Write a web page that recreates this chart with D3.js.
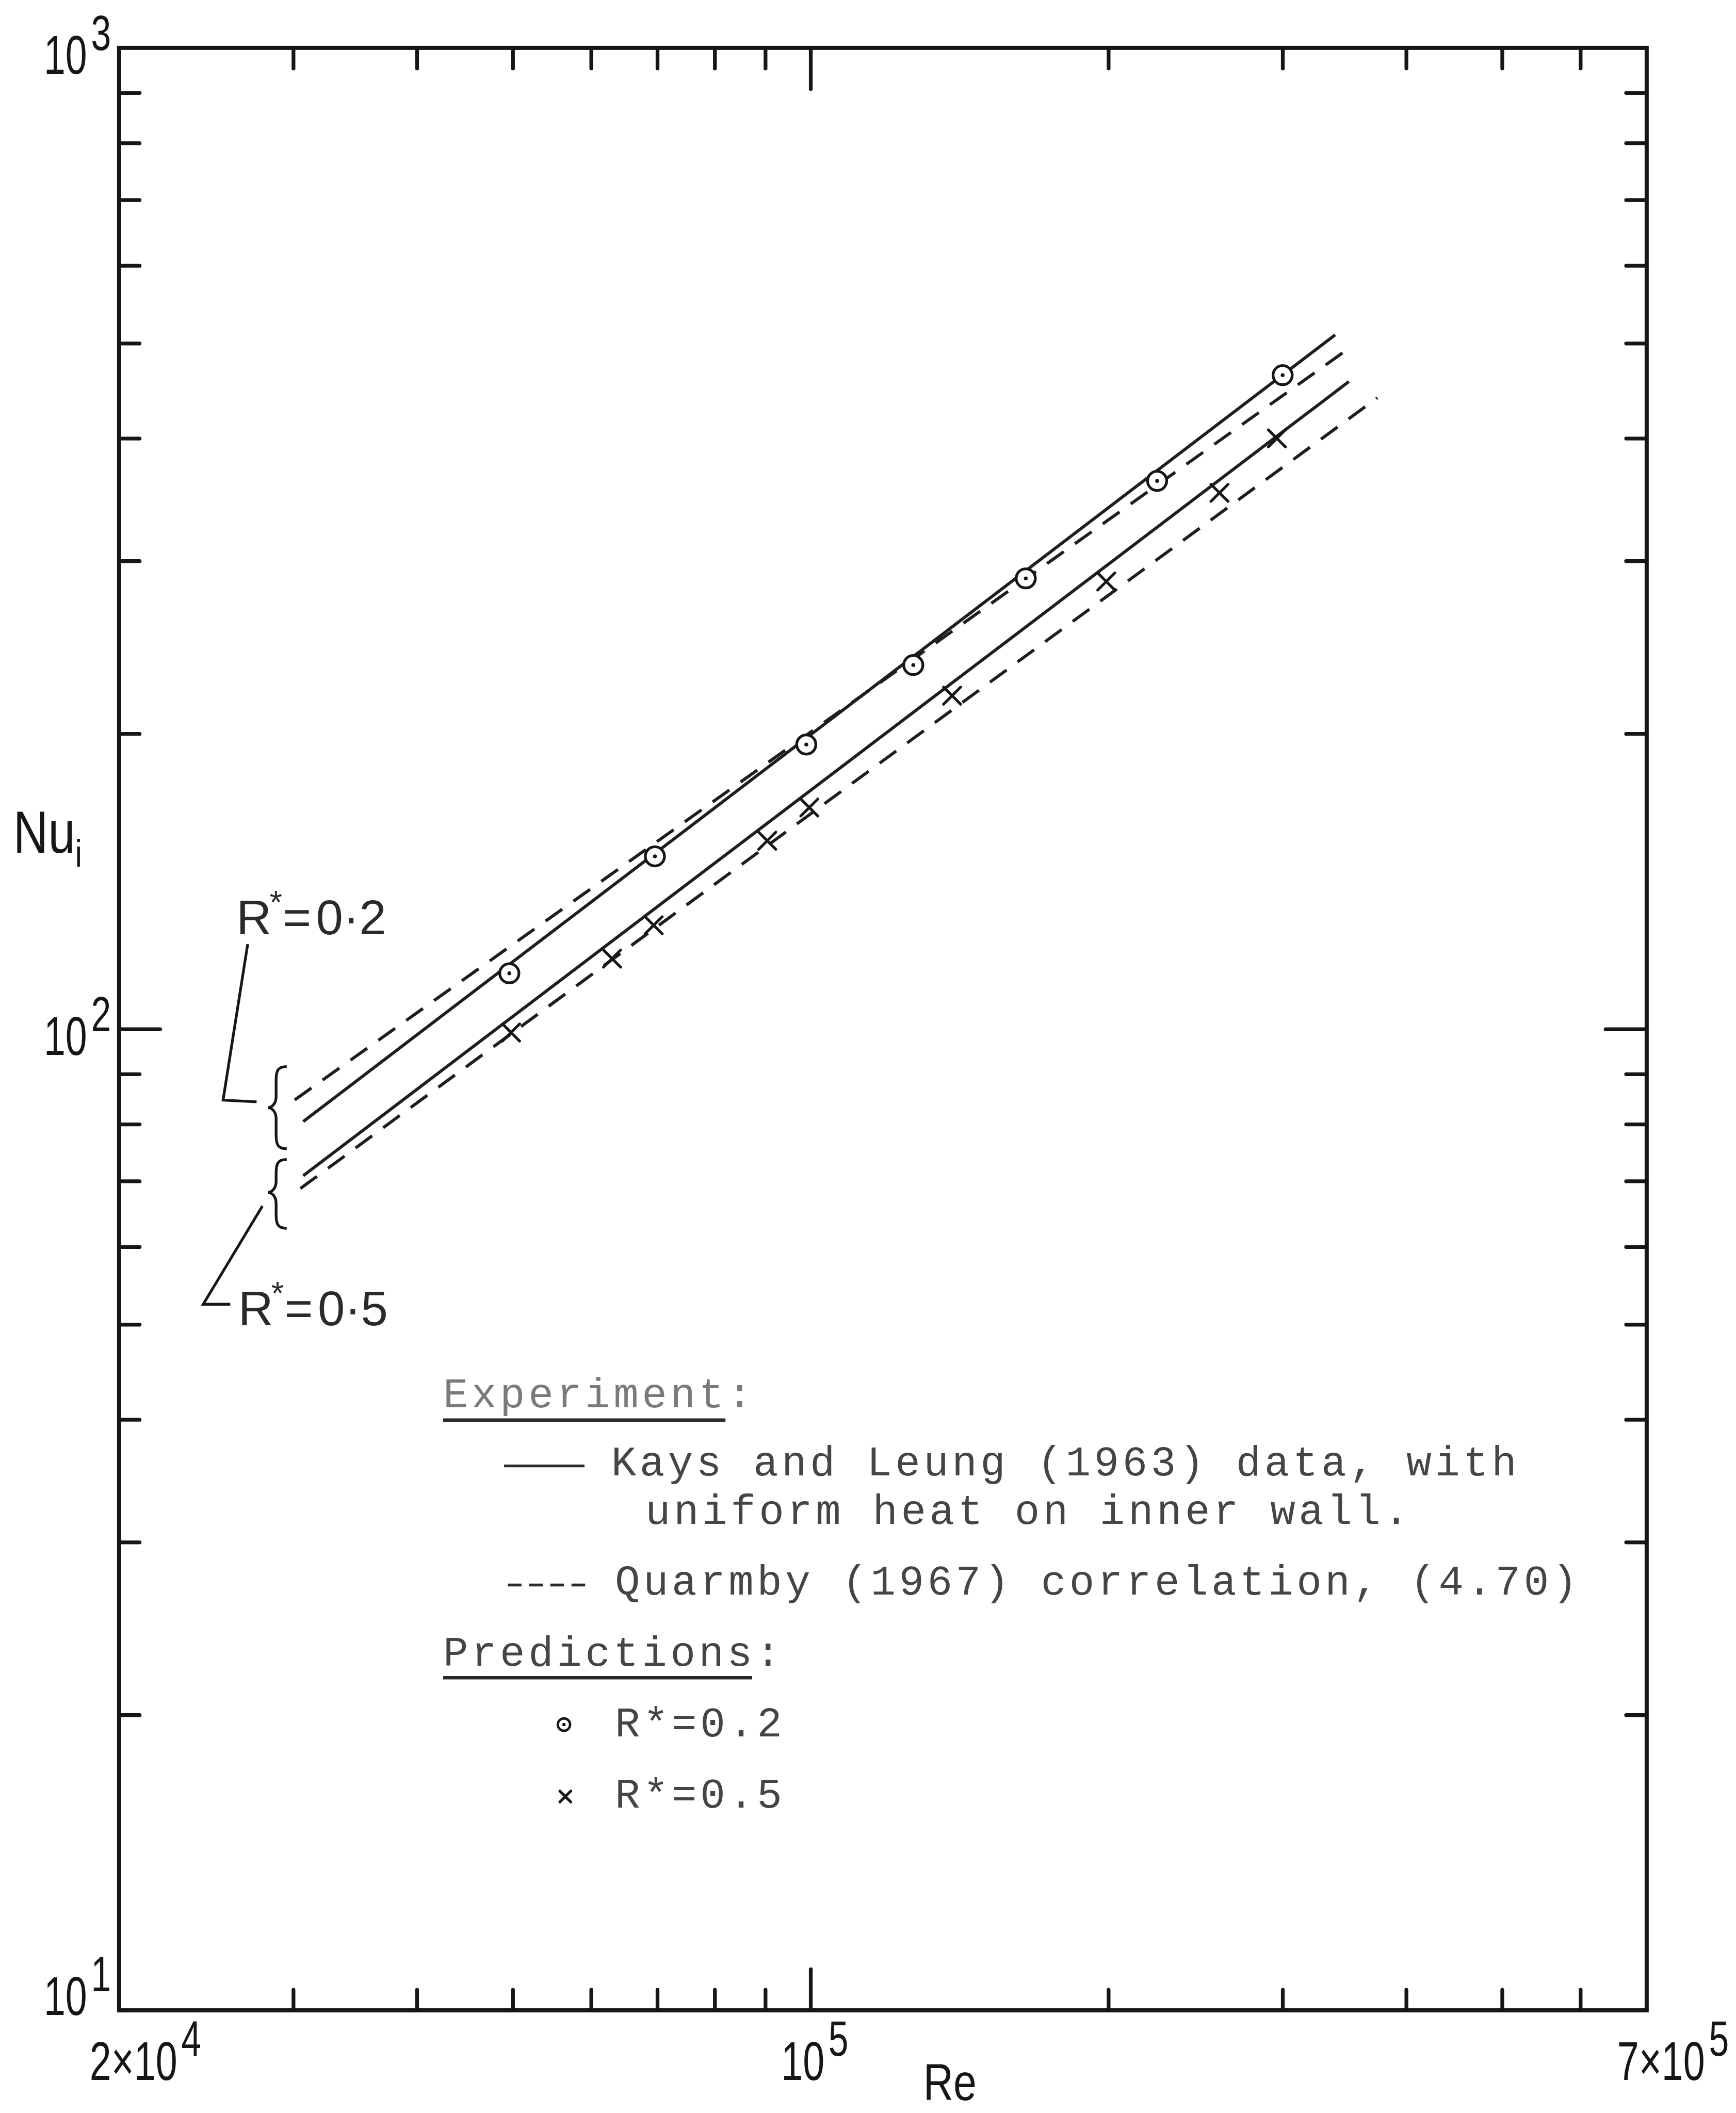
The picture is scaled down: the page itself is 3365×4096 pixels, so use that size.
<!DOCTYPE html>
<html>
<head>
<meta charset="utf-8">
<script src="https://cdn.jsdelivr.net/npm/d3@7"></script>
<style>
  html, body { margin: 0; padding: 0; background: #ffffff; }
  svg { display: block; }
</style>
</head>
<body>
<svg id="chart" width="3365" height="4096" viewBox="0 0 5073 6175"></svg>
<script>
// ---- Axis ticks (log-log paper) ----
const reMinorTicks = [3e4, 4e4, 5e4, 6e4, 7e4, 8e4, 9e4, 2e5, 3e5, 4e5, 5e5, 6e5];
const reMajorTicks = [1e5];
const nuMinorTicks = [20, 30, 40, 50, 60, 70, 80, 90, 200, 300, 400, 500, 600, 700, 800, 900];
const nuMajorTicks = [100];

// ---- Tick labels ----
const reLabelValues = [2e4, 1e5, 7e5];
const reLabelBases  = ["2×10", "10", "7×10"];
const reLabelExps   = ["4", "5", "5"];
const nuLabelValues = [1000, 100, 10];
const nuLabelExps   = ["3", "2", "1"];

// ---- Predictions (markers) ----
const predRe02 = [4.96e4, 6.96e4, 9.9e4, 1.27e5, 1.65e5, 2.24e5, 3.0e5];
const predNu02 = [114, 150, 195, 235, 288, 362, 464];
const predRe05 = [4.98e4, 6.3e4, 6.94e4, 9.04e4, 9.97e4, 1.39e5, 1.99e5, 2.59e5, 2.96e5];
const predNu05 = [99.2, 118, 127.6, 155.6, 168.2, 218.7, 285.9, 352, 400];

// ---- Kays & Leung data (solid) and Quarmby correlation (dashed) ----
const kaysRe02    = [3.07e4, 3.39e5];
const kaysNu02    = [80.5, 510];
const quarmbyRe02 = [3.01e4, 3.49e5];
const quarmbyNu02 = [84.7, 493];
const kaysRe05    = [3.07e4, 3.50e5];
const kaysNu05    = [70.9, 457];
const quarmbyRe05 = [3.05e4, 3.74e5];
const quarmbyNu05 = [68.8, 440];

const svg = d3.select("#chart");
const INK = "#161616";
const TYPE = "#454545";

const plot = { left: 348, right: 4812, top: 140, bottom: 5875 };
const x = d3.scaleLog().domain([2e4, 7e5]).range([plot.left, plot.right]);
const y = d3.scaleLog().domain([10, 1000]).range([plot.bottom, plot.top]);

const zip = (a, b) => a.map((v, i) => ({ re: v, nu: b[i] }));

// ---- Frame ----
svg.append("rect")
  .attr("x", plot.left).attr("y", plot.top)
  .attr("width", plot.right - plot.left).attr("height", plot.bottom - plot.top)
  .attr("fill", "none").attr("stroke", INK).attr("stroke-width", 12);

// ---- Inward ticks on all four sides ----
function ticks(axis, transform, values, len) {
  svg.append("g")
    .attr("transform", transform)
    .call(axis.tickValues(values).tickSize(-len).tickFormat(""))
    .call(g => g.select(".domain").remove())
    .call(g => g.selectAll(".tick line")
      .attr("stroke", INK).attr("stroke-width", 11).attr("stroke-linecap", "round"));
}
const minorLen = 60, majorLen = 120;
ticks(d3.axisBottom(x), `translate(0,${plot.bottom})`, reMinorTicks, minorLen);
ticks(d3.axisBottom(x), `translate(0,${plot.bottom})`, reMajorTicks, majorLen);
ticks(d3.axisTop(x), `translate(0,${plot.top})`, reMinorTicks, minorLen);
ticks(d3.axisTop(x), `translate(0,${plot.top})`, reMajorTicks, majorLen);
ticks(d3.axisLeft(y), `translate(${plot.left},0)`, nuMinorTicks, minorLen);
ticks(d3.axisLeft(y), `translate(${plot.left},0)`, nuMajorTicks, majorLen);
ticks(d3.axisRight(y), `translate(${plot.right},0)`, nuMinorTicks, minorLen);
ticks(d3.axisRight(y), `translate(${plot.right},0)`, nuMajorTicks, majorLen);

// ---- Lettered labels (condensed stencil style) ----
const LETTER = "'Liberation Sans', Arial, sans-serif";
const labels = svg.append("g").attr("font-family", LETTER).attr("fill", INK);

// base number with a raised exponent, squeezed horizontally
function powerLabel(bx, by, base, exp) {
  const t = labels.append("text")
    .attr("transform", `translate(${bx},${by}) scale(0.72,1)`)
    .attr("font-size", 158);
  t.append("tspan").text(base);
  t.append("tspan").attr("dx", 16).attr("dy", -70).attr("font-size", 146).text(exp);
}

nuLabelValues.forEach((v, i) => {
  const shift = v === 10 ? 14 : 76;
  powerLabel(plot.left - 220, y(v) + shift, "10", nuLabelExps[i]);
});
reLabelValues.forEach((v, i) => {
  powerLabel(x(v) - 86, plot.bottom + 203, reLabelBases[i], reLabelExps[i]);
});

// Axis titles
labels.append("text")
  .attr("transform", `translate(${x(1.3e5)},6138) scale(0.8,1)`)
  .attr("font-size", 152)
  .text("Re");
const nuTitle = labels.append("text")
  .attr("transform", `translate(39,${y(160) + 70}) scale(0.82,1)`)
  .attr("font-size", 172);
nuTitle.append("tspan").text("Nu");
nuTitle.append("tspan").attr("dy", 40).attr("font-size", 112).text("i");

// ---- Correlation lines ----
const line = d3.line().x(d => x(d.re)).y(d => y(d.nu));
const series = [
  { re: quarmbyRe02, nu: quarmbyNu02, dash: "60,40" },
  { re: kaysRe02,    nu: kaysNu02,    dash: null },
  { re: kaysRe05,    nu: kaysNu05,    dash: null },
  { re: quarmbyRe05, nu: quarmbyNu05, dash: "60,40" }
];
svg.append("g").selectAll("path")
  .data(series)
  .join("path")
  .attr("d", s => line(zip(s.re, s.nu)))
  .attr("fill", "none")
  .attr("stroke", "#1e1e1e")
  .attr("stroke-width", 9)
  .attr("stroke-dasharray", s => s.dash);

// ---- Prediction markers ----
function dotCircle(g, cx, cy, r, sw) {
  g.append("circle").attr("cx", cx).attr("cy", cy).attr("r", r)
    .attr("fill", "#ffffff").attr("stroke", INK).attr("stroke-width", sw);
  g.append("circle").attr("cx", cx).attr("cy", cy).attr("r", sw * 0.7).attr("fill", INK);
}
function cross(g, cx, cy, h, sw) {
  g.append("path")
    .attr("d", `M${cx - h},${cy - h}L${cx + h},${cy + h}M${cx - h},${cy + h}L${cx + h},${cy - h}`)
    .attr("stroke", INK).attr("stroke-width", sw).attr("stroke-linecap", "round").attr("fill", "none");
}
const markers = svg.append("g");
zip(predRe02, predNu02).forEach(d => dotCircle(markers, x(d.re), y(d.nu), 28, 8));
zip(predRe05, predNu05).forEach(d => cross(markers, x(d.re), y(d.nu), 25, 8));

// ---- R* annotations with braces ----
function brace(g, tip, end, top, mid, bot) {
  const c = tip + 24;
  g.append("path")
    .attr("d",
      `M${end},${top} C${c + 5},${top} ${c},${top + 12} ${c},${top + 40}` +
      ` L${c},${mid - 32} C${c},${mid - 10} ${tip + 10},${mid} ${tip},${mid}` +
      ` C${tip + 10},${mid} ${c},${mid + 10} ${c},${mid + 32}` +
      ` L${c},${bot - 40} C${c},${bot - 12} ${c + 5},${bot} ${end},${bot}`)
    .attr("fill", "none").attr("stroke", INK).attr("stroke-width", 8);
}
const ann = svg.append("g");
const braceEnd = x(3.05e4) - 40;
const braceTip = braceEnd - 55;
const mid02 = (y(kaysNu02[0]) + y(quarmbyNu02[0])) / 2 - 9;
const mid05 = (y(kaysNu05[0]) + y(quarmbyNu05[0])) / 2 + 30;
brace(ann, braceTip, braceEnd, mid02 - 120, mid02, mid02 + 120);
brace(ann, braceTip, braceEnd, mid05 - 96, mid05, mid05 + 105);

const leader = d3.line();
ann.append("path")
  .attr("d", leader([[braceTip - 59, mid02 - 478], [braceTip - 131, mid02 - 22], [braceTip - 33, mid02 - 17]]))
  .attr("fill", "none").attr("stroke", INK).attr("stroke-width", 8);
ann.append("path")
  .attr("d", leader([[braceTip - 16, mid05 + 40], [braceTip - 189, mid05 + 327], [braceTip - 110, mid05 + 327]]))
  .attr("fill", "none").attr("stroke", INK).attr("stroke-width", 8);

function rLabel(px, py, value) {
  const t = ann.append("text")
    .attr("x", px).attr("y", py)
    .attr("font-family", LETTER).attr("font-size", 142).attr("fill", "#2a2a2a");
  t.append("tspan").text("R");
  t.append("tspan").attr("dx", -6).attr("dy", -62).attr("font-size", 95).text("*");
  t.append("tspan").attr("dx", 2).attr("dy", 62).text("=");
  t.append("tspan").attr("dx", 14).text(value);
}
rLabel(691, mid02 - 507, "0·2");
rLabel(696, mid05 + 389, "0·5");

// ---- Typed legend (typewriter pitch kept with letter spacing) ----
const MONO = "'Liberation Mono', 'Courier New', monospace";
const legend = svg.append("g")
  .attr("font-family", MONO).attr("font-size", 122)
  .style("letter-spacing", "9.8px")
  .attr("fill", TYPE);

legend.append("text").attr("x", 1295).attr("y", 4112).attr("fill", "#7a7a7a").text("Experiment:");
legend.append("line").attr("x1", 1295).attr("x2", 2120).attr("y1", 4150).attr("y2", 4150)
  .attr("stroke", "#2a2a2a").attr("stroke-width", 10);

legend.append("line").attr("x1", 1473).attr("x2", 1708).attr("y1", 4284).attr("y2", 4284)
  .attr("stroke", "#2a2a2a").attr("stroke-width", 8);
const kaysText = legend.append("text").attr("y", 4312);
kaysText.append("tspan").attr("x", 1786).text("Kays and Leung (1963) data, with");
kaysText.append("tspan").attr("x", 1886).attr("dy", 142).text("uniform heat on inner wall.");

legend.append("line").attr("x1", 1484).attr("x2", 1719).attr("y1", 4632).attr("y2", 4632)
  .attr("stroke", "#2a2a2a").attr("stroke-width", 8).attr("stroke-dasharray", "40,22");
legend.append("text").attr("x", 1797).attr("y", 4660).text("Quarmby (1967) correlation, (4.70)");

legend.append("text").attr("x", 1295).attr("y", 4868).text("Predictions:");
legend.append("line").attr("x1", 1295).attr("x2", 2198).attr("y1", 4903).attr("y2", 4903)
  .attr("stroke", "#2a2a2a").attr("stroke-width", 10);

dotCircle(legend, 1648, 5040, 18, 7);
legend.append("text").attr("x", 1797).attr("y", 5075).text("R*=0.2");
cross(legend, 1652, 5250, 16, 8);
legend.append("text").attr("x", 1797).attr("y", 5282).text("R*=0.5");
</script>
</body>
</html>
